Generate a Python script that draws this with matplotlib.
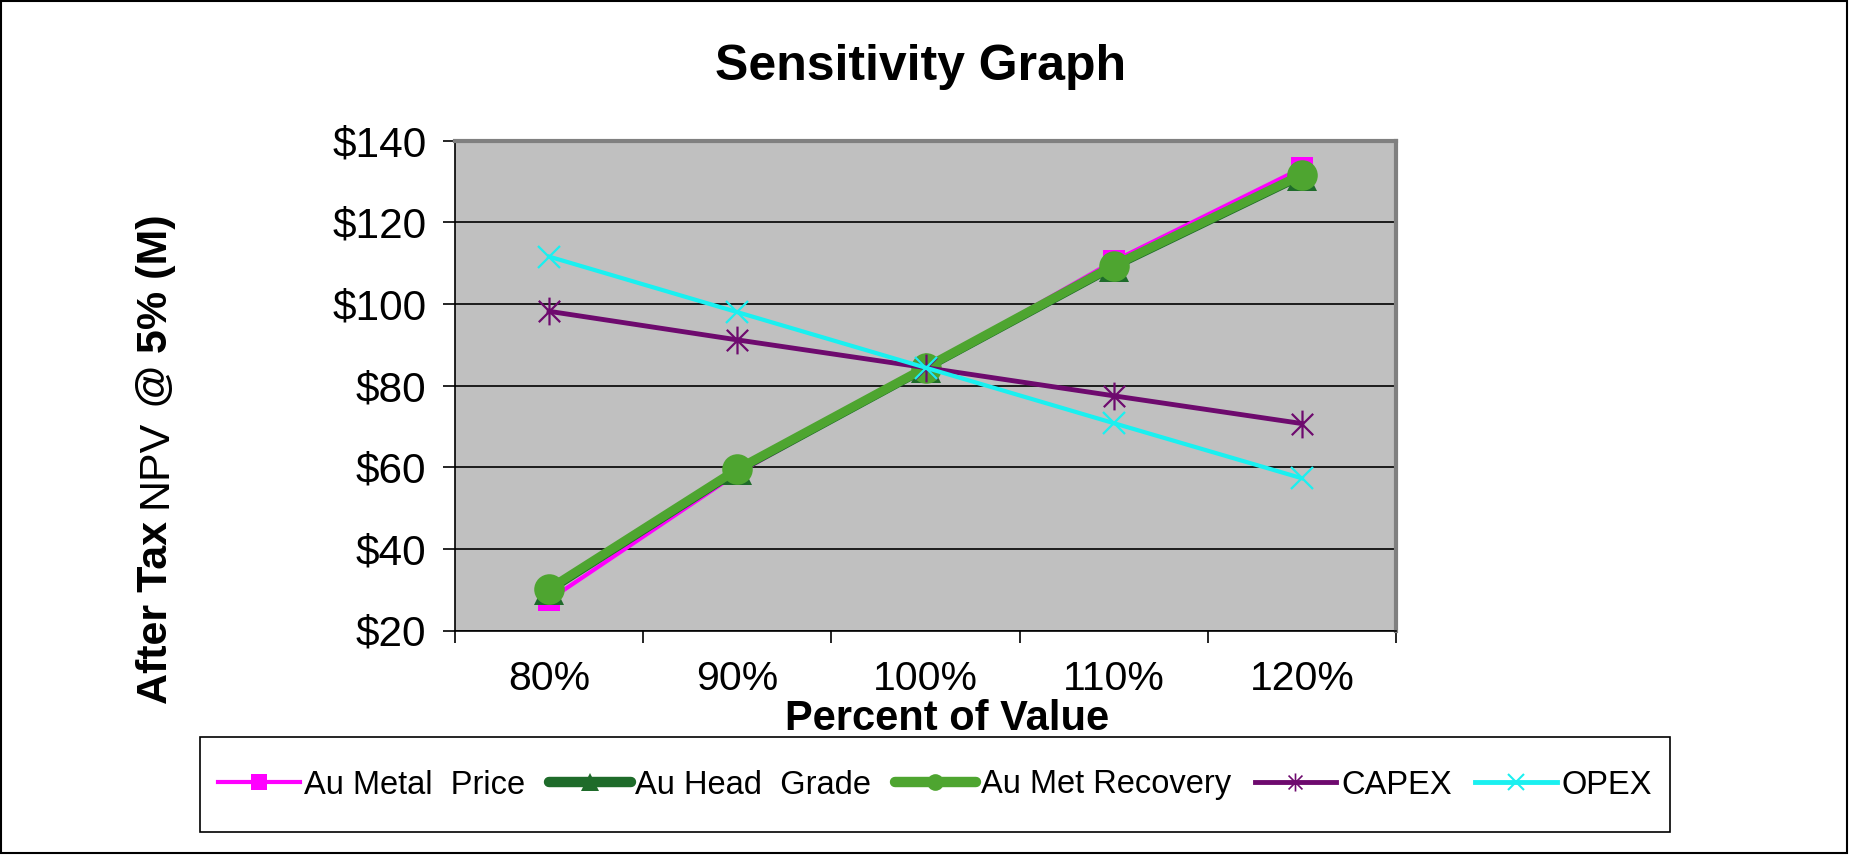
import matplotlib
matplotlib.use("Agg")
import matplotlib.pyplot as plt
from matplotlib.lines import Line2D
from matplotlib.patches import Rectangle
from matplotlib.path import Path
from matplotlib.ticker import FuncFormatter

plt.rcParams['font.family'] = ['Liberation Sans', 'DejaVu Sans']

# data
categories = ['80%', '90%', '100%', '110%', '120%']
metal_price = [27.5, 58.5, 84.3, 110.5, 133.3]
head_grade = [29.8, 59.2, 84.2, 109.1, 131.4]
met_recovery = [30.2, 59.5, 84.4, 109.4, 131.7]
capex = [98.2, 91.2, 84.4, 77.5, 70.7]
opex = [111.6, 98.0, 84.4, 70.8, 57.3]
series_names = ['Au Metal  Price', 'Au Head  Grade', 'Au Met Recovery', 'CAPEX', 'OPEX']

# excel style asterisk: an x with a vertical bar
star = Path([(-1, -1), (1, 1), (-1, 1), (1, -1), (0, -1.3), (0, 1.3)],
            [Path.MOVETO, Path.LINETO, Path.MOVETO, Path.LINETO, Path.MOVETO, Path.LINETO])

styles = [
    dict(color='#FF00FF', lw=3.0, marker='s', ms=16, mew=0),
    dict(color='#1E6B2A', lw=6.0, marker='^', ms=22, mew=0),
    dict(color='#4EA530', lw=6.5, marker='o', ms=22, mew=0),
    dict(color='#6E0A6E', lw=3.5, marker=star, ms=20, mew=1.6, mfc='none'),
    dict(color='#1AF0F0', lw=3.0, marker='x', ms=16, mew=1.6),
]
legend_styles = [
    dict(color='#FF00FF', lw=3.0, marker='s', ms=12, mew=0),
    dict(color='#1E6B2A', lw=7.5, marker='^', ms=13, mew=0, solid_capstyle='round'),
    dict(color='#4EA530', lw=7.5, marker='o', ms=12, mew=0, solid_capstyle='round'),
    dict(color='#6E0A6E', lw=3.5, marker=star, ms=13, mew=1.2, mfc='none'),
    dict(color='#1AF0F0', lw=3.5, marker='x', ms=11, mew=1.5),
]

W, H = 1850, 857
fig = plt.figure(figsize=(W / 100, H / 100), dpi=100)

ax = fig.add_axes([455 / W, 1 - 630.5 / H, (1396 - 455) / W, (630.5 - 140.7) / H])
ax.set_facecolor('#C0C0C0')

x = list(range(len(categories)))
for vals, st in zip([metal_price, head_grade, met_recovery, capex, opex], styles):
    ax.plot(x, vals, **st)

ax.set_xlim(-0.5, len(categories) - 0.5)
ax.set_ylim(20, 140)
ax.set_yticks(range(20, 141, 20))
ax.yaxis.set_major_formatter(FuncFormatter(lambda v, p: f'${v:.0f}'))
ax.set_xticks(x)
ax.set_xticklabels(categories)
ax.set_xticks([i - 0.5 for i in range(len(categories) + 1)], minor=True)
ax.tick_params(axis='x', which='major', length=0, pad=21, labelsize=29.5)
ax.tick_params(axis='x', which='minor', length=8.5, width=1.2, direction='out')
ax.tick_params(axis='y', length=8.5, width=1.2, direction='out', pad=12, labelsize=30.5)

ax.grid(axis='y', color='black', lw=1.2)
ax.set_axisbelow(True)
for s in ['left', 'bottom']:
    ax.spines[s].set_color('black')
    ax.spines[s].set_linewidth(1.2)
for s in ['top', 'right']:
    ax.spines[s].set_color('#808080')
    ax.spines[s].set_linewidth(3)

fig.text(921 / W, 1 - 80 / H, 'Sensitivity Graph', ha='center', va='baseline',
         fontsize=36, fontweight='bold')
fig.text(947 / W, 1 - 719 / H, 'Percent of Value', ha='center', va='center',
         fontsize=30, fontweight='bold')

# y label with mixed weights, built piece by piece
ylab_size = 31
pieces = [('After Tax', 'bold'), ('NPV', 'normal'), ('@ 5% (M)', 'bold')]
r = fig.canvas.get_renderer()

def text_width(s, weight):
    t = fig.text(0, 0, s, fontsize=ylab_size, fontweight=weight)
    w = t.get_window_extent(renderer=r).width
    t.remove()
    return w

space = 0.30 * ylab_size * 100 / 72
widths = [text_width(s, wgt) for s, wgt in pieces]
total = sum(widths) + space * (len(pieces) - 1)
y0 = (H - 459) - total / 2
for (s, wgt), w in zip(pieces, widths):
    fig.text(167 / W, y0 / H, s, fontsize=ylab_size, fontweight=wgt, rotation=90,
             rotation_mode='anchor', ha='left', va='baseline')
    y0 += w + space

# legend: frame drawn separately
handles = [Line2D([], [], **st) for st in legend_styles]
fig.legend(handles, series_names, loc='center', ncol=5, mode='expand',
           bbox_to_anchor=(218 / W, 1 - 815 / H, (1652 - 218) / W, 60 / H),
           frameon=False, fontsize=23.5, handlelength=2.5, handletextpad=0.15,
           borderpad=0, borderaxespad=0)
fig.patches.append(Rectangle((200 / W, 1 - 832 / H), (1670 - 200) / W, 95 / H,
                             transform=fig.transFigure, fill=False,
                             edgecolor='black', lw=1.2))
fig.patches.append(Rectangle((1 / W, 4 / H), (1847 - 1) / W, (H - 5) / H,
                             transform=fig.transFigure, fill=False,
                             edgecolor='black', lw=1.5))

fig.savefig('out.png', dpi=100)
